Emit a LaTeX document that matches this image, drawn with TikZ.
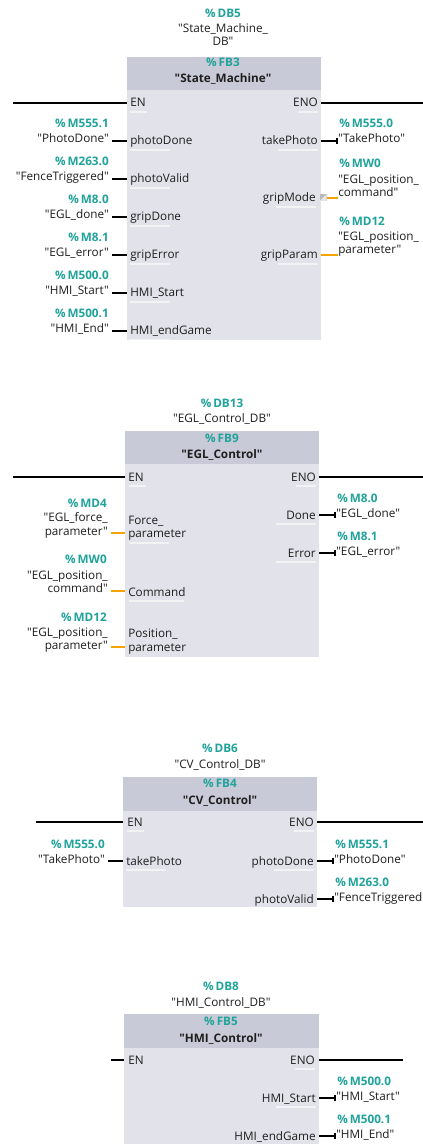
\documentclass[tikz,border=0pt]{standalone}
\usepackage{fontspec}
% plain family without TeX input mapping, so " stays a straight quote
\newfontfamily\uifont{Open Sans}
\usetikzlibrary{arrows.meta}
\definecolor{addrcol}{HTML}{1FA39B}
\definecolor{headcol}{HTML}{C9CAD8}
\definecolor{bodycol}{HTML}{E1E2EA}
\definecolor{orwire}{HTML}{F5A300}
\definecolor{inkcol}{HTML}{1E1E1E}
\newcommand\tq[1]{"#1"}
\newcommand\oq{"}
\tikzset{
  every node/.style={inner sep=0pt, text=inkcol, font=\uifont\fontsize{8.8}{10}\selectfont},
  adr/.style={text=addrcol, font=\uifont\fontsize{8.8}{10}\selectfont\bfseries},
  bname/.style={font=\uifont\fontsize{8.8}{10}\selectfont\bfseries},
  rail/.style={line width=1.6pt, draw=black},
  bwire/.style={line width=1.6pt, draw=black},
  owire/.style={line width=1.3pt, draw=orwire},
  twire/.style={line width=1.5pt, draw=black, -{Bar[width=4.5pt,line width=1.2pt]}},
  ul/.style={line width=0.8pt, draw=white, draw opacity=0.6},
}
% left input: name, box-left x, wire y, pin label, address, var line 1, var line 2 (opt), wire style
\newcommand\inpin[8]{%
  \coordinate (#1) at (#2,#3);
  \node[anchor=base west] (#1-p) at (#2+3,#3+4) {#4};
  \draw[ul] (#2+3,#3+9) -- ++(40,0);
  \ifx&#7&
    \node[anchor=base east] (#1-v) at (#2-18,#3+2) {#6};
  \else
    \node[anchor=base east] (#1-v0) at (#2-18,#3-11) {#6};
    \node[anchor=base east] (#1-v) at (#2-18,#3+2) {#7};
  \fi
  \node[adr, anchor=base east] (#1-a) at (#2-18,#3-13-\ifx&#7&0\else 13\fi) {#5};
  \draw[#8] (#1-v.east |- #1) ++(3,0) -- (#1);
}
% right output: name, box-right x, wire y, pin label, address, var line 1, var line 2 (opt), wire style
\newcommand\outpin[8]{%
  \coordinate (#1) at (#2,#3);
  \node[anchor=base east] (#1-p) at (#2-3,#3+4) {#4};
  \draw[ul] (#2-3,#3+9) -- ++(-40,0);
  \ifx&#7&
    \node[anchor=base west] (#1-v) at (#2+17,#3+2) {#6};
  \else
    \node[anchor=base west] (#1-v0) at (#2+17,#3-14) {#6};
    \node[anchor=base west] (#1-v) at (#2+17,#3-1) {#7};
  \fi
  \node[adr, anchor=base west] (#1-a) at (#2+18,#3-13-\ifx&#7&0\else 16\fi) {#5};
  \draw[#8] (#1) -- (#1-v.west |- #1);
}
% block frame: name, left x, top y, right x, bottom y, header bottom y
\newcommand\fblock[6]{%
  \fill[bodycol] (#2,#6) rectangle (#4,#5);
  \fill[headcol] (#2,#3) rectangle (#4,#6);
  \path (#2,#3) coordinate (#1-nw) (#4,#5) coordinate (#1-se);
}
\begin{document}
\begin{tikzpicture}[x=0.75pt,y=-0.75pt]
\useasboundingbox (0,0) rectangle (423,1144);
\fill[white] (0,0) rectangle (423,1144);

% ---------------- State_Machine ----------------
\fblock{sm}{127}{57}{321}{340}{90}
\node[adr] (sm-db) at (223,13) {\%\,DB5};
\node[anchor=base] (sm-dbn) at (223,33) {\oq State\_Machine\_};
\node[anchor=base] at (223,46) {DB\oq};
\node[adr] (sm-fb) at (223,62) {\%\,FB3};
\node[bname, anchor=base] (sm-name) at (223,83) {\tq{State\_Machine}};
\coordinate (sm-en) at (127,103);
\coordinate (sm-eno) at (321,103);
\coordinate (sm-l) at (13,103);
\coordinate (sm-r) at (423,103);
\node[anchor=base west] at (130,107) {EN};
\node[anchor=base east] at (318,107) {ENO};
\draw[ul] (130,112) -- ++(17,0);
\draw[ul] (318,112) -- ++(-20,0);
\draw[rail] (sm-l) -- (sm-en);
\draw[rail] (sm-eno) -- (sm-r);
\inpin{sm1}{127}{141}{photoDone}{\%\,M555.1}{\tq{PhotoDone}}{}{bwire}
\inpin{sm2}{127}{179}{photoValid}{\%\,M263.0}{\tq{FenceTriggered}}{}{bwire}
\inpin{sm3}{127}{217}{gripDone}{\%\,M8.0}{\tq{EGL\_done}}{}{bwire}
\inpin{sm4}{127}{255}{gripError}{\%\,M8.1}{\tq{EGL\_error}}{}{bwire}
\inpin{sm5}{127}{293}{HMI\_Start}{\%\,M500.0}{\tq{HMI\_Start}}{}{bwire}
\inpin{sm6}{127}{331}{HMI\_endGame}{\%\,M500.1}{\tq{HMI\_End}}{}{bwire}
\outpin{sm7}{321}{141}{takePhoto}{\%\,M555.0}{\tq{TakePhoto}}{}{twire}
% gripMode: type-conversion marker in front of the wire
\coordinate (sm8) at (321,198);
\node[anchor=base east] (sm8-p) at (316,202) {gripMode};
\draw[ul] (316,207) -- ++(-40,0);
\fill[gray!55] (319.5,194) rectangle (326.5,201);
\fill[gray!20] (326.5,194) -- (326.5,201) -- (319.5,201) -- cycle;
\node[anchor=base west] (sm8-v0) at (338,184) {\oq EGL\_position\_};
\node[anchor=base west] (sm8-v) at (338,197) {command\oq};
\node[adr, anchor=base west] (sm8-a) at (339,168) {\%\,MW0};
\draw[owire] (326.5,198) -- (sm8-v.west |- sm8);
\outpin{sm9}{321}{255}{gripParam}{\%\,MD12}{\oq EGL\_position\_}{parameter\oq}{owire}

% ---------------- EGL_Control ----------------
\fblock{egl}{125}{431}{319}{657}{464}
\node[adr] (egl-db) at (222,403) {\%\,DB13};
\node[anchor=base] at (222,422) {\tq{EGL\_Control\_DB}};
\node[adr] (egl-fb) at (222,438) {\%\,FB9};
\node[bname, anchor=base] at (222,458) {\tq{EGL\_Control}};
\coordinate (egl-en) at (125,477);
\coordinate (egl-eno) at (319,477);
\coordinate (egl-l) at (13,477);
\coordinate (egl-r) at (423,477);
\node[anchor=base west] at (128,481) {EN};
\node[anchor=base east] at (316,481) {ENO};
\draw[ul] (129,486) -- ++(17,0);
\draw[ul] (316,486) -- ++(-20,0);
\draw[rail] (egl-l) -- (egl-en);
\draw[rail] (egl-eno) -- (egl-r);
% two-line pin labels on the left
\coordinate (egl1) at (125,533);
\node[anchor=base west] at (128,524) {Force\_};
\node[anchor=base west] (egl1-p) at (128,537) {parameter};
\draw[ul] (129,543) -- ++(40,0);
\node[anchor=base east] at (108,521) {\oq EGL\_force\_};
\node[anchor=base east] (egl1-v) at (108,535) {parameter\oq};
\node[adr, anchor=base east] at (107,507) {\%\,MD4};
\draw[owire] (egl1-v.east |- egl1) ++(3,0) -- (egl1);
\coordinate (egl2) at (125,591);
\node[anchor=base west] (egl2-p) at (128,596) {Command};
\draw[ul] (129,601) -- ++(55,0);
\node[anchor=base east] at (108,579) {\oq EGL\_position\_};
\node[anchor=base east] (egl2-v) at (108,592) {command\oq};
\node[adr, anchor=base east] at (107,563) {\%\,MW0};
\draw[owire] (egl2-v.east |- egl2) ++(3,0) -- (egl2);
\coordinate (egl3) at (125,647);
\node[anchor=base west] at (128,637) {Position\_};
\node[anchor=base west] (egl3-p) at (128,651) {parameter};
\node[anchor=base east] at (108,636) {\oq EGL\_position\_};
\node[anchor=base east] (egl3-v) at (108,649) {parameter\oq};
\node[adr, anchor=base east] at (107,621) {\%\,MD12};
\draw[owire] (egl3-v.east |- egl3) ++(3,0) -- (egl3);
\outpin{egl4}{319}{515}{Done}{\%\,M8.0}{\tq{EGL\_done}}{}{twire}
\outpin{egl5}{319}{553}{Error}{\%\,M8.1}{\tq{EGL\_error}}{}{twire}

% ---------------- CV_Control ----------------
\fblock{cv}{123}{777}{317}{907}{811}
\node[adr] (cv-db) at (220,748) {\%\,DB6};
\node[anchor=base] at (220,768) {\tq{CV\_Control\_DB}};
\node[adr] (cv-fb) at (220,783) {\%\,FB4};
\node[bname, anchor=base] at (220,804) {\tq{CV\_Control}};
\coordinate (cv-en) at (123,822);
\coordinate (cv-eno) at (317,822);
\coordinate (cv-l) at (36,822);
\coordinate (cv-r) at (423,822);
\node[anchor=base west] at (127,826) {EN};
\node[anchor=base east] at (314,826) {ENO};
\draw[ul] (127,831) -- ++(17,0);
\draw[ul] (314,831) -- ++(-20,0);
\draw[rail] (cv-l) -- (cv-en);
\draw[rail] (cv-eno) -- (cv-r);
\inpin{cv1}{123}{861}{takePhoto}{\%\,M555.0}{\tq{TakePhoto}}{}{bwire}
\outpin{cv2}{317}{861}{photoDone}{\%\,M555.1}{\tq{PhotoDone}}{}{twire}
\outpin{cv3}{317}{899}{photoValid}{\%\,M263.0}{\tq{FenceTriggered}}{}{twire}

% ---------------- HMI_Control ----------------
\fblock{hmi}{124}{1014}{319}{1150}{1048}
\node[adr] (hmi-db) at (221,986) {\%\,DB8};
\node[anchor=base] at (221,1006) {\tq{HMI\_Control\_DB}};
\node[adr] (hmi-fb) at (221,1021) {\%\,FB5};
\node[bname, anchor=base] at (221,1042) {\tq{HMI\_Control}};
\coordinate (hmi-en) at (124,1060);
\coordinate (hmi-eno) at (319,1060);
\coordinate (hmi-l) at (111,1060);
\coordinate (hmi-r) at (403,1060);
\node[anchor=base west] at (128,1064) {EN};
\node[anchor=base east] at (315,1064) {ENO};
\draw[ul] (315,1069) -- ++(-20,0);
\draw[rail] (hmi-l) -- (hmi-en);
\draw[rail] (hmi-eno) -- (hmi-r);
\outpin{hmi1}{319}{1098}{HMI\_Start}{\%\,M500.0}{\tq{HMI\_Start}}{}{twire}
\outpin{hmi2}{319}{1136}{HMI\_endGame}{\%\,M500.1}{\tq{HMI\_End}}{}{twire}
\end{tikzpicture}
\end{document}
